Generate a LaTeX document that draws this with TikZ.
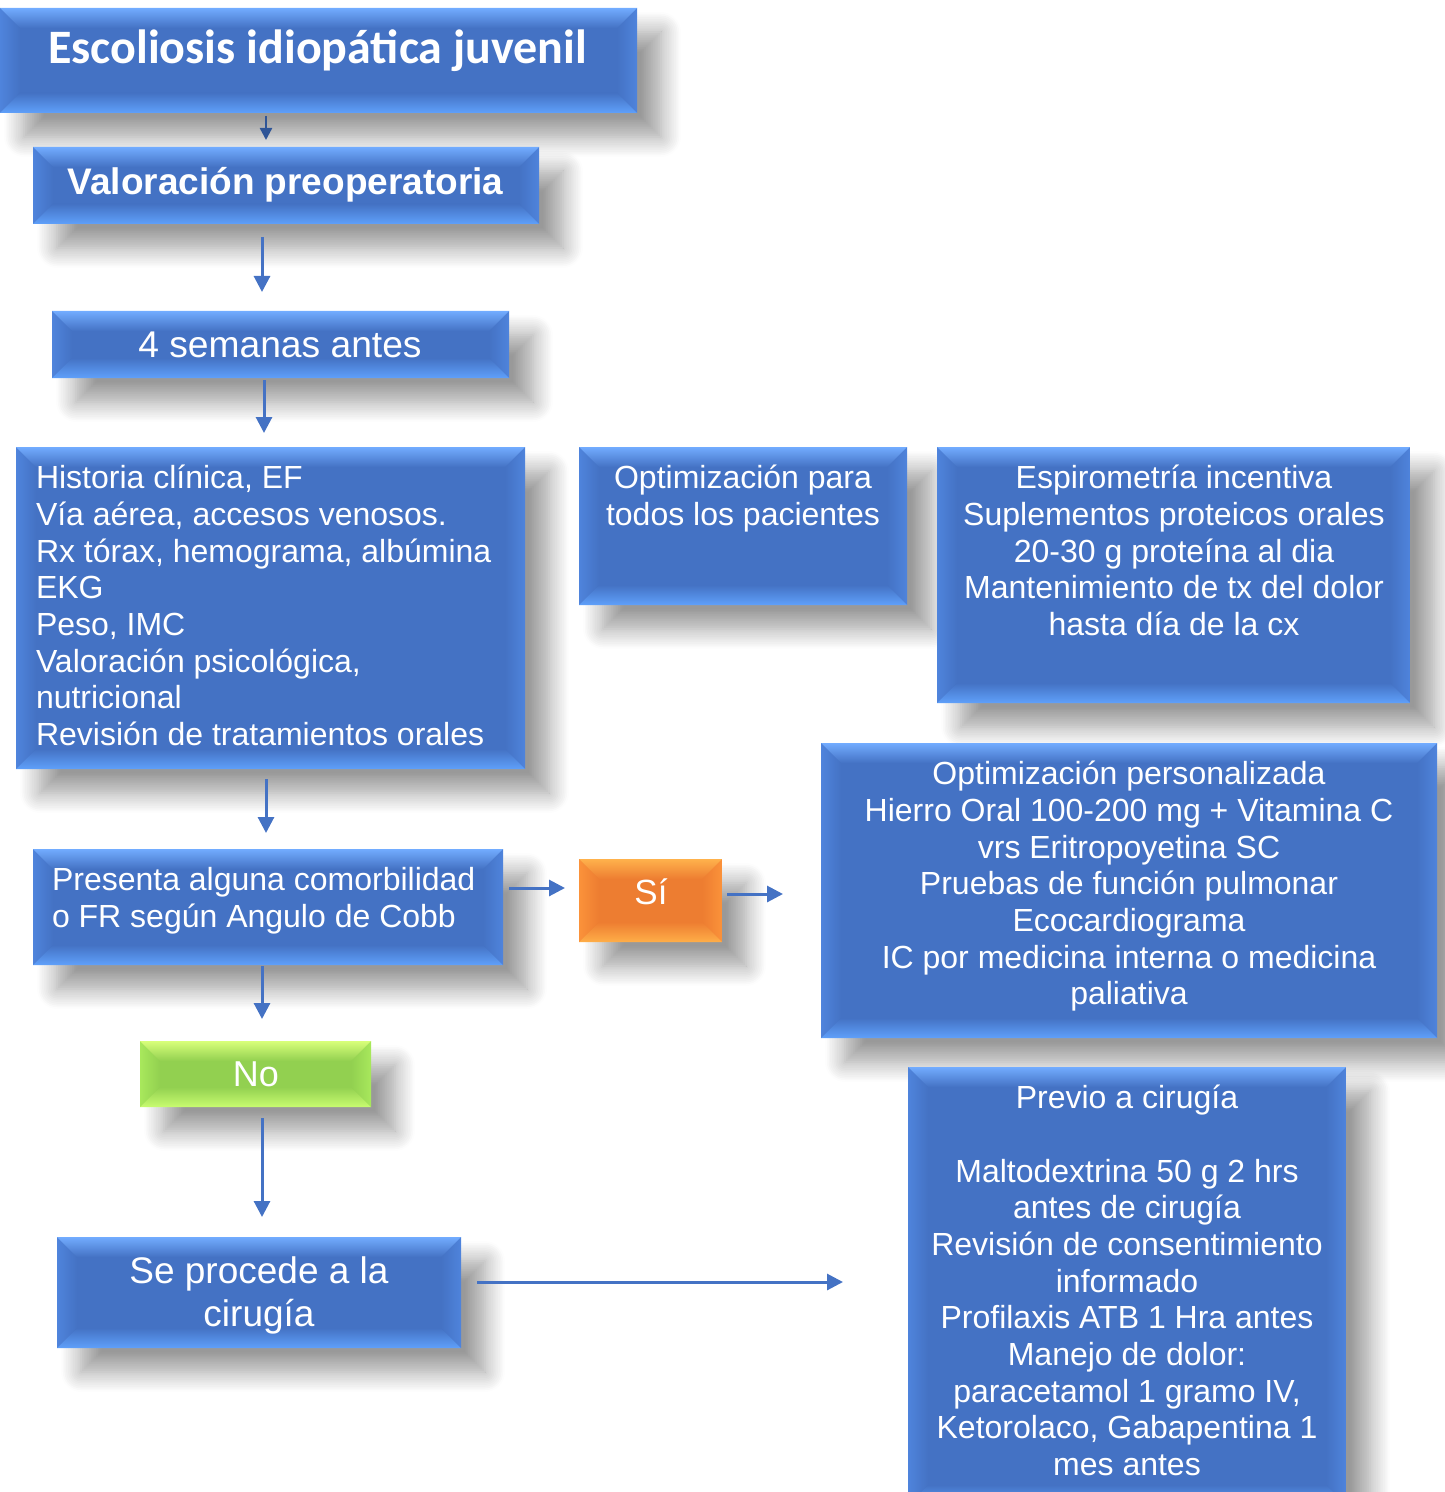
\documentclass[tikz,border=0pt]{standalone}
\usepackage{fontspec}
\setmainfont{Liberation Sans}
\newfontfamily\calib{Carlito}
\usetikzlibrary{arrows.meta,shadows.blur,fit,calc}
\definecolor{bmain}{HTML}{4472C4}
\definecolor{btop}{HTML}{72ACFF}
\definecolor{bside}{HTML}{4F84DC}
\definecolor{bbot}{HTML}{5FA0FA}
\definecolor{omain}{HTML}{ED7D31}
\definecolor{otop}{HTML}{FFB24C}
\definecolor{oside}{HTML}{FB923A}
\definecolor{obot}{HTML}{FFAE48}
\definecolor{gmain}{HTML}{92D050}
\definecolor{gtop}{HTML}{D8FF7A}
\definecolor{gside}{HTML}{A8E85C}
\definecolor{gbot}{HTML}{C8FC70}
\definecolor{arrowblue}{HTML}{4472C4}
\definecolor{darkarrow}{HTML}{2F5597}
\newcommand\bv{10pt}
\newcommand\bevelpic[4]{%
  \path (path picture bounding box.north west) coordinate (bNW)
        (path picture bounding box.north east) coordinate (bNE)
        (path picture bounding box.south west) coordinate (bSW)
        (path picture bounding box.south east) coordinate (bSE);
  \shade[left color=#3, right color=#1] (bNW) -- ([shift={(\bv,-\bv)}]bNW) -- ([shift={(\bv,\bv)}]bSW) -- (bSW) -- cycle;
  \shade[left color=#1, right color=#3] (bNE) -- ([shift={(-\bv,-\bv)}]bNE) -- ([shift={(-\bv,\bv)}]bSE) -- (bSE) -- cycle;
  \shade[top color=#2, bottom color=#1] (bNW) -- (bNE) -- ([shift={(-\bv,-\bv)}]bNE) -- ([shift={(\bv,-\bv)}]bNW) -- cycle;
  \shade[top color=#1, bottom color=#4] ([shift={(\bv,\bv)}]bSW) -- ([shift={(-\bv,\bv)}]bSE) -- (bSE) -- (bSW) -- cycle;
}
\newcommand\firstln{\rule{0pt}{0.8em}}
\tikzset{
  box/.style={inner sep=0pt, outer sep=0pt,
    blur shadow={shadow xshift=12pt, shadow yshift=-12pt, shadow blur radius=10pt, shadow opacity=40, shadow blur steps=12}},
  bluebox/.style={box, fill=bmain, path picture={\bevelpic{bmain}{btop}{bside}{bbot}}},
  orangebox/.style={box, fill=omain, path picture={\bevelpic{omain}{otop}{oside}{obot}}},
  greenbox/.style={box, fill=gmain, path picture={\bevelpic{gmain}{gtop}{gside}{gbot}}},
  txt/.style={text=white, inner sep=0pt, outer sep=0pt},
  fs/.style={font=\fontsize{16}{18.35}\selectfont},
  arr/.style={-{Triangle[length=8pt,width=8pt]}, line width=1.5pt, draw=arrowblue},
  darr/.style={-{Triangle[length=6pt,width=6pt]}, line width=1.2pt, draw=darkarrow},
}
\begin{document}
\begin{tikzpicture}[x=0.5pt,y=-0.5pt]
\useasboundingbox (0,0) rectangle (1444,1492);
% boxes
\node[bluebox, fit={(0,8)(637,113)}] (title) {};
\node[bluebox, fit={(33,147)(539,224)}] (valor) {};
\node[bluebox, fit={(52,311)(509,378)}] (sem) {};
\node[bluebox, fit={(16,447)(525,769)}] (hist) {};
\node[bluebox, fit={(579,447)(907,605)}] (optt) {};
\node[bluebox, fit={(937,447)(1410,703)}] (espi) {};
\node[bluebox, fit={(821,743)(1437,1038)}] (optp) {};
\node[bluebox, fit={(33,849)(503,965)}] (pres) {};
\node[orangebox, fit={(579,859)(722,942)}] (si) {};
\node[greenbox, fit={(140,1041)(371,1107)}] (no) {};
\node[bluebox, fit={(57,1237)(461,1348)}] (proc) {};
\node[bluebox, fit={(908,1067)(1346,1505)}] (prev) {};
% texts
\node[txt, anchor=north, font=\calib\bfseries\fontsize{24}{28}\selectfont] (ttitle) at (317.5,25) {\firstln Escoliosis idiopática juvenil};
\node[txt, anchor=north, font=\bfseries\fontsize{18.5}{22}\selectfont] (tvalor) at (285.5,164.6) {\firstln Valoración preoperatoria};
\node[txt, anchor=north, font=\fontsize{18.6}{22}\selectfont] (tsem) at (280,327.5) {\firstln 4 semanas antes};
\node[txt, fs, anchor=north west, align=left] (thist) at (36,463) {\firstln Historia clínica, EF\\Vía aérea, accesos venosos.\\Rx tórax, hemograma, albúmina\\EKG\\Peso, IMC\\Valoración psicológica,\\nutricional\\Revisión de tratamientos orales};
\node[txt, fs, anchor=north, align=center] (toptt) at (743,463) {\firstln Optimización para\\todos los pacientes};
\node[txt, fs, anchor=north, align=center] (tespi) at (1174,463) {\firstln Espirometría incentiva\\Suplementos proteicos orales\\20-30 g proteína al dia\\Mantenimiento de tx del dolor\\hasta día de la cx};
\node[txt, fs, anchor=north, align=center] (toptp) at (1129,759) {\firstln Optimización personalizada\\Hierro Oral 100-200 mg + Vitamina C\\vrs Eritropoyetina SC\\Pruebas de función pulmonar\\Ecocardiograma\\IC por medicina interna o medicina\\paliativa};
\node[txt, fs, anchor=north west, align=left] (tpres) at (52,865) {\firstln Presenta alguna comorbilidad\\o FR según Angulo de Cobb};
\node[txt, anchor=north, font=\fontsize{17.5}{21}\selectfont] (tsi) at (651,876.5) {\firstln Sí};
\node[txt, anchor=north, font=\fontsize{18}{21}\selectfont] (tno) at (256,1058) {\firstln No};
\node[txt, anchor=north, align=center, font=\fontsize{18.5}{21.5}\selectfont] (tproc) at (259,1254) {\firstln Se procede a la\\cirugía};
\node[txt, fs, anchor=north, align=center] (tprev) at (1127,1083) {\firstln Previo a cirugía\\[18.35pt]Maltodextrina 50 g 2 hrs\\antes de cirugía\\Revisión de consentimiento\\informado\\Profilaxis ATB 1 Hra antes\\Manejo de dolor:\\paracetamol 1 gramo IV,\\Ketorolaco, Gabapentina 1\\mes antes};
% arrow guides
\coordinate (x266) at (266,0);
\coordinate (x262) at (262,0);
\coordinate (x264) at (264,0);
\coordinate (y888) at (0,888);
\coordinate (y894) at (0,894);
\coordinate (y1282) at (0,1282);
% arrows
\draw[darr, shorten <=1.5pt, shorten >=3.5pt] (x266 |- title.south) -- (x266 |- valor.north);
\draw[arr, shorten <=6.5pt, shorten >=9.5pt] (x262 |- valor.south) -- (x262 |- sem.north);
\draw[arr, shorten <=1pt, shorten >=7pt] (x264 |- sem.south) -- (x264 |- hist.north);
\draw[arr, shorten <=5pt, shorten >=8pt] (x266 |- hist.south) -- (x266 |- pres.north);
\draw[arr, shorten <=0.5pt, shorten >=11pt] (x262 |- pres.south) -- (x262 |- no.north);
\draw[arr, shorten <=5.5pt, shorten >=10pt] (x262 |- no.south) -- (x262 |- proc.north);
\draw[arr, shorten <=3pt, shorten >=7pt] (pres.east |- y888) -- (si.west |- y888);
\draw[arr, shorten <=2.5pt, shorten >=19pt] (si.east |- y894) -- (optp.west |- y894);
\draw[arr, shorten <=8pt, shorten >=32.5pt] (proc.east |- y1282) -- (prev.west |- y1282);
\end{tikzpicture}
\end{document}
